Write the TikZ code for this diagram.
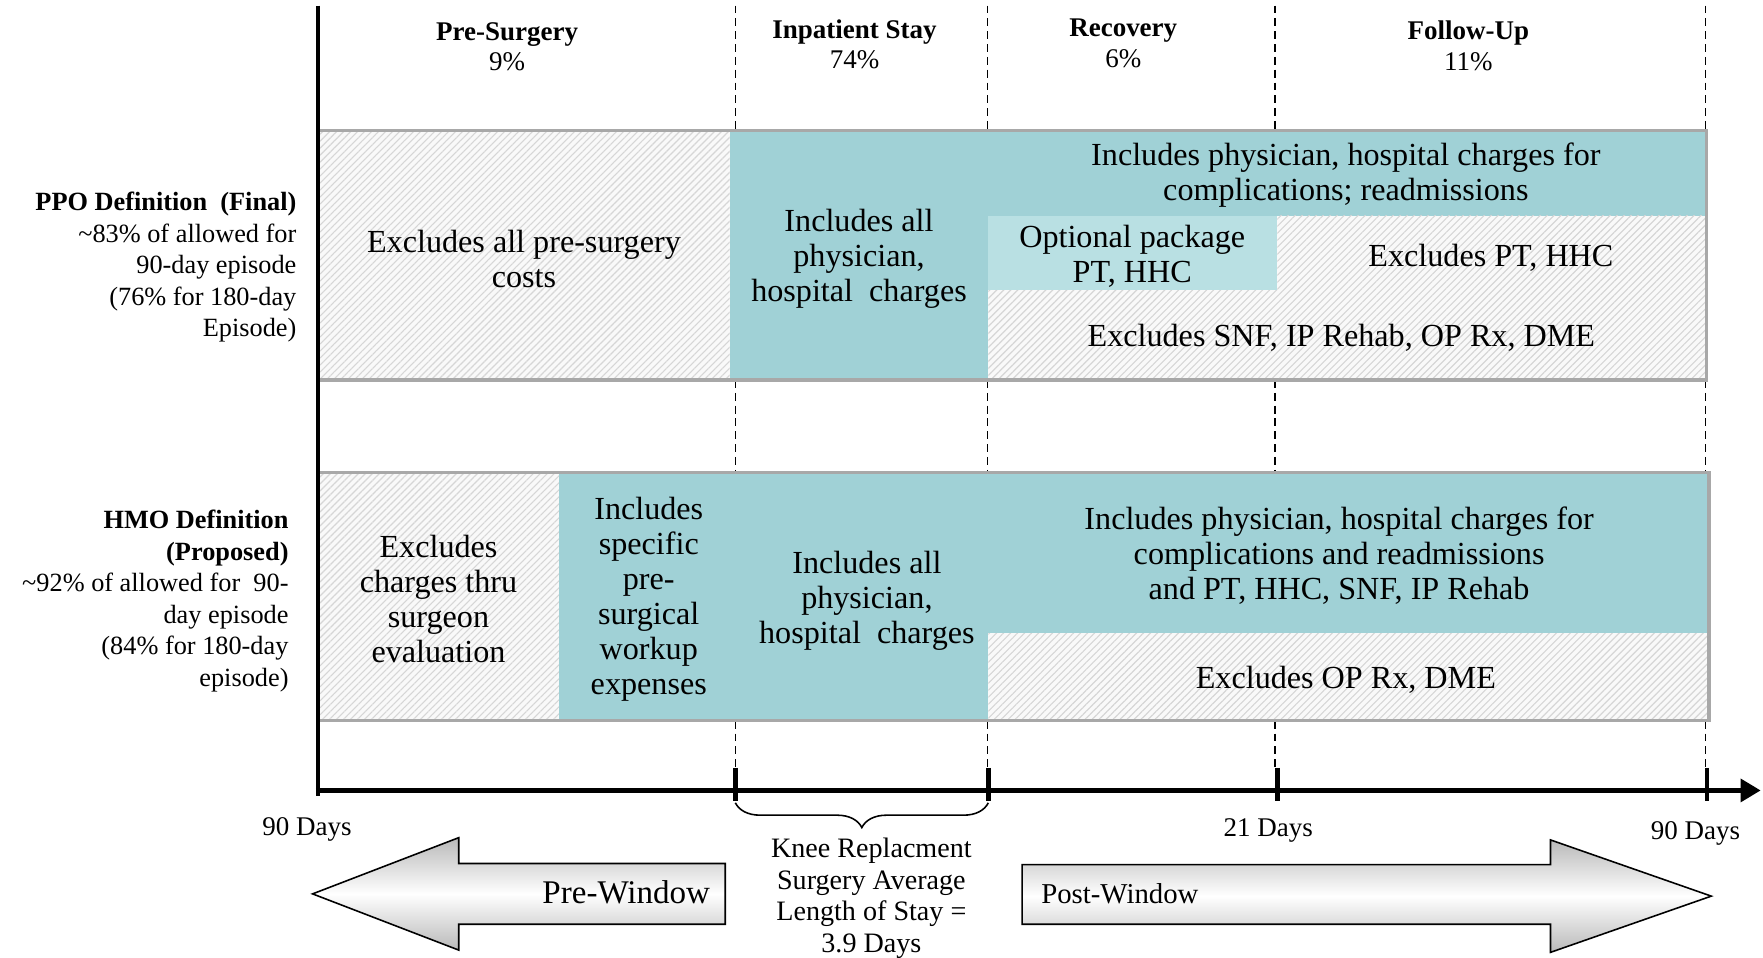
\documentclass[tikz,border=0pt]{standalone}
\usepackage{fontspec}
\setmainfont{Liberation Serif}
\usetikzlibrary{patterns.meta,decorations.pathreplacing,arrows.meta}
\definecolor{tealc}{HTML}{A0D1D6}
\definecolor{lteal}{HTML}{B9E0E3}
\definecolor{bordc}{HTML}{A8A8A8}
\definecolor{hatchbg}{HTML}{F9F9F9}
\definecolor{hatchln}{HTML}{D6D6D6}
\begin{document}
\begin{tikzpicture}[x=0.5pt,y=-0.5pt,
  body/.style={align=center, font=\fontsize{14.3}{15.6}\selectfont, inner sep=0pt, yshift=-1pt},
  hdr/.style={align=center, font=\fontsize{12}{13.5}\selectfont, inner sep=0pt, yshift=-0.8pt},
  side/.style={align=right, anchor=east, font=\fontsize{11.7}{14}\selectfont, inner sep=0pt, yshift=-0.8pt},
  axlbl/.style={font=\fontsize{12}{14}\selectfont, inner sep=0pt, yshift=-1pt},
  hatch/.style={fill=hatchbg, postaction={pattern={Lines[angle=45,distance=2.2pt,line width=0.5pt]}, pattern color=hatchln}},
  tealbox/.style={fill=tealc},
  ltealbox/.style={fill=lteal},
  rowborder/.style={draw=bordc, line width=1.5pt},
  dashline/.style={draw=black, line width=0.6pt, dash pattern=on 3.5pt off 2.2pt},
  axisline/.style={draw=black, line width=2pt},
  tickline/.style={draw=black, line width=2pt},
  blockarrow/.style={draw=black, line width=0.7pt, top color=gray!55, bottom color=gray!55, middle color=white}
]
\useasboundingbox (0,0) rectangle (1568,852);

% ---------- dashed guide lines ----------
\foreach \xx in {654,878,1134,1517}{
  \draw[dashline] (\xx,5) -- (\xx,116);
  \draw[dashline] (\xx,338) -- (\xx,420);
  \draw[dashline] (\xx,641) -- (\xx,683);
}

% ---------- PPO row ----------
\fill[hatch] (283,116) rectangle (649,338);
\fill[tealbox] (649,116) rectangle (879,338);
\fill[tealbox] (879,116) rectangle (1518,192);
\fill[ltealbox] (879,192) rectangle (1136,258);
\fill[hatch] (1136,192) rectangle (1518,258);
\fill[hatch] (879,258) rectangle (1518,338);
\draw[rowborder] (283,116) rectangle (1518,338);

% ---------- HMO row ----------
\fill[hatch] (283,420) rectangle (497,641);
\fill[tealbox] (497,420) rectangle (879,641);
\fill[tealbox] (879,420) rectangle (1520,563);
\fill[hatch] (879,563) rectangle (1520,641);
\draw[rowborder] (283,420) rectangle (1520,641);

% ---------- axes ----------
\draw[axisline] (283,5) -- (283,708);
\draw[axisline, line width=2.3pt, -{Triangle[length=9pt,width=10pt]}] (281,703) -- (1566,703);
\foreach \xx in {654,879,1136,1518}{
  \draw[tickline] (\xx,683) -- (\xx,712);
}
\draw[line width=0.7pt, decorate, decoration={brace, amplitude=11pt, mirror}] (654,714) -- (879,714);

% ---------- headers ----------
\node[hdr] (hpre) at (451,40) {\textbf{Pre-Surgery}\\9\%};
\node[hdr] (hinp) at (760,38) {\textbf{Inpatient Stay}\\74\%};
\node[hdr] (hrec) at (999,37) {\textbf{Recovery}\\6\%};
\node[hdr] (hfol) at (1306,39) {\textbf{Follow-Up}\\11\%};

% ---------- side labels ----------
\node[side] (ppo) at (264,236) {\textbf{PPO Definition\ \ (Final)}\\\textasciitilde83\% of allowed for\\90-day episode\\(76\% for 180-day\\Episode)};
\node[side] (hmo) at (257,533) {\textbf{HMO Definition}\\\textbf{(Proposed)}\\\textasciitilde92\% of allowed for\ \ 90-\\day episode\\(84\% for 180-day\\episode)};

% ---------- PPO texts ----------
\node[body] (p1) at (466,228) {Excludes all pre-surgery\\costs};
\node[body] (p2) at (764,228) {Includes all\\physician,\\hospital\ \ charges};
\node[body] (p3) at (1197,154) {Includes physician, hospital charges for\\complications; readmissions};
\node[body] (p4) at (1007,226) {Optional package\\PT, HHC};
\node[body] (p5) at (1326,227) {Excludes PT, HHC};
\node[body] (p6) at (1193,298) {Excludes SNF, IP Rehab, OP Rx, DME};

% ---------- HMO texts ----------
\node[body] (m1) at (390,531) {Excludes\\charges thru\\surgeon\\evaluation};
\node[body] (m2) at (577,531) {Includes\\specific\\pre-\\surgical\\workup\\expenses};
\node[body] (m3) at (771,532) {Includes all\\physician,\\hospital\ \ charges};
\node[body] (m4) at (1191,492) {Includes physician, hospital charges for\\complications and readmissions\\and PT, HHC, SNF, IP Rehab};
\node[body] (m5) at (1197,603) {Excludes OP Rx, DME};

% ---------- axis labels ----------
\node[axlbl] (d90a) at (273,736) {90 Days};
\node[axlbl] (d21) at (1128,737) {21 Days};
\node[axlbl] (d90b) at (1508,739) {90 Days};
\node[align=center, font=\fontsize{12.5}{14}\selectfont, inner sep=0pt, yshift=-1pt] (knee) at (775,797) {Knee Replacment\\Surgery Average\\Length of Stay =\\3.9 Days};

% ---------- window arrows ----------
\path[blockarrow] (645,768) -- (408,768) -- (408,745) -- (278,795) -- (408,845) -- (408,822) -- (645,822) -- cycle;
\path[blockarrow] (909,769) -- (1379,769) -- (1379,747) -- (1522,797) -- (1379,847) -- (1379,822) -- (909,822) -- cycle;
\node[font=\fontsize{14.7}{16}\selectfont, inner sep=0pt, yshift=-0.5pt] (prew) at (557,793) {Pre-Window};
\node[font=\fontsize{12.8}{14}\selectfont, inner sep=0pt, yshift=-0.5pt] (postw) at (996,794) {Post-Window};
\end{tikzpicture}
\end{document}
